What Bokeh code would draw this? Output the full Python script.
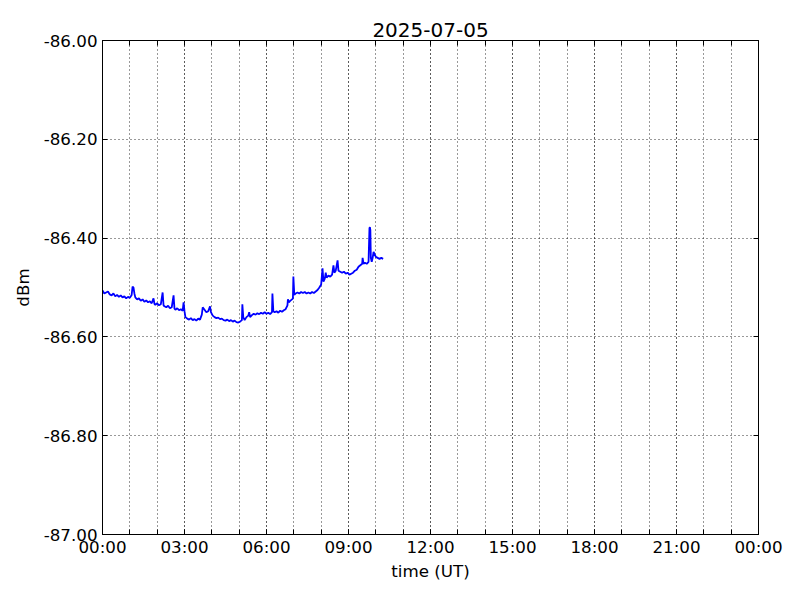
from bokeh.plotting import figure
from bokeh.models import FixedTicker, LinearAxis, Range1d, Title
from bokeh.embed import file_html
from bokeh.resources import INLINE

title_text = "2025-07-05"
x_label = "time (UT)"
y_label = "dBm"

# time in minutes after 00:00 UT
minutes = [0, 4, 8, 12, 16, 20, 24, 28, 32, 36, 40, 44, 48, 52, 56, 60, 64, 66, 68, 70,
           72, 76, 80, 84, 88, 92, 96, 100, 104, 108, 112, 114, 116, 120, 124, 128, 132, 134, 136, 140,
           144, 148, 152, 156, 158, 160, 164, 168, 172, 176, 178, 180, 182, 186, 190, 194, 198, 202, 206, 210,
           214, 218, 220, 224, 228, 232, 236, 238, 242, 246, 250, 254, 258, 262, 266, 270, 274, 278, 282, 286,
           290, 294, 298, 302, 306, 307, 309, 312, 316, 320, 322, 324, 328, 332, 336, 340, 344, 348, 352, 356,
           360, 364, 368, 372, 373, 375, 378, 382, 386, 390, 394, 398, 402, 406, 407, 409, 412, 416, 418, 419,
           421, 424, 428, 432, 436, 440, 444, 448, 452, 456, 460, 464, 468, 472, 476, 480, 483, 485, 488, 490,
           492, 496, 500, 504, 507, 509, 512, 516, 518, 522, 526, 530, 534, 538, 542, 546, 550, 554, 558, 562,
           566, 570, 571, 573, 576, 580, 584, 586, 587, 588, 589, 591, 593, 595, 597, 600, 604, 608, 612, 616]

power_dbm = [-86.506, -86.512, -86.510, -86.508, -86.514, -86.516, -86.512, -86.518, -86.515, -86.519,
             -86.516, -86.520, -86.518, -86.522, -86.519, -86.521, -86.515, -86.498, -86.500, -86.512,
             -86.520, -86.524, -86.522, -86.527, -86.524, -86.529, -86.526, -86.530, -86.528, -86.532,
             -86.522, -86.533, -86.535, -86.532, -86.536, -86.534, -86.510, -86.536, -86.538, -86.540,
             -86.537, -86.542, -86.540, -86.516, -86.543, -86.545, -86.542, -86.546, -86.544, -86.547,
             -86.530, -86.548, -86.560, -86.563, -86.565, -86.562, -86.566, -86.564, -86.567, -86.563,
             -86.565, -86.555, -86.540, -86.545, -86.550, -86.548, -86.538, -86.550, -86.557, -86.560,
             -86.562, -86.561, -86.564, -86.563, -86.566, -86.567, -86.565, -86.568, -86.566, -86.569,
             -86.567, -86.570, -86.571, -86.569, -86.566, -86.534, -86.560, -86.566, -86.560, -86.557,
             -86.550, -86.560, -86.556, -86.553, -86.555, -86.552, -86.554, -86.551, -86.553, -86.550,
             -86.553, -86.551, -86.554, -86.550, -86.512, -86.548, -86.550, -86.548, -86.551, -86.547,
             -86.549, -86.546, -86.544, -86.536, -86.524, -86.530, -86.527, -86.524, -86.522, -86.478,
             -86.515, -86.512, -86.510, -86.512, -86.509, -86.511, -86.509, -86.512, -86.510, -86.512,
             -86.509, -86.511, -86.508, -86.505, -86.500, -86.494, -86.461, -86.488, -86.482, -86.470,
             -86.480, -86.476, -86.478, -86.474, -86.455, -86.470, -86.466, -86.445, -86.466, -86.468,
             -86.470, -86.468, -86.472, -86.470, -86.474, -86.472, -86.470, -86.466, -86.464, -86.458,
             -86.455, -86.452, -86.440, -86.452, -86.450, -86.452, -86.448, -86.380, -86.378, -86.384,
             -86.440, -86.448, -86.440, -86.428, -86.432, -86.438, -86.440, -86.442, -86.440, -86.442]

x_major_hours = [0, 3, 6, 9, 12, 15, 18, 21, 24]
x_minor_hours = list(range(0, 25))
x_tick_labels = ["00:00", "03:00", "06:00", "09:00", "12:00", "15:00", "18:00", "21:00", "00:00"]
y_ticks = [-87.0, -86.8, -86.6, -86.4, -86.2, -86.0]
y_tick_labels = ["-87.00", "-86.80", "-86.60", "-86.40", "-86.20", "-86.00"]

hours = [m / 60.0 for m in minutes]

W, H = 792, 592
p = figure(width=W, height=H, output_backend="svg", toolbar_location=None,
           x_range=Range1d(0, 24), y_range=Range1d(-87.0, -86.0),
           min_border_left=102, min_border_right=34, min_border_top=40, min_border_bottom=58)

p.line(hours, power_dbm, line_color="#0000ff", line_width=1.8)

p.title = Title(text=title_text, align="center", text_font="DejaVu Sans",
                text_font_size="20px", text_font_style="normal", text_color="black",
                offset=0, standoff=8)

p.outline_line_color = "black"
p.outline_line_width = 1
p.background_fill_color = "white"
p.border_fill_color = "white"

x_ticker = FixedTicker(ticks=x_major_hours, minor_ticks=x_minor_hours)
y_ticker = FixedTicker(ticks=y_ticks, minor_ticks=[])

xa = p.xaxis[0]
xa.ticker = x_ticker
xa.major_label_overrides = {h: lbl for h, lbl in zip(x_major_hours, x_tick_labels)}
xa.axis_label = x_label
ya = p.yaxis[0]
ya.ticker = y_ticker
ya.major_label_overrides = {t: lbl for t, lbl in zip(y_ticks, y_tick_labels)}
ya.axis_label = y_label

for ax in (xa, ya):
    ax.axis_label_text_font = "DejaVu Sans"
    ax.axis_label_text_font_size = "16.7px"
    ax.axis_label_text_font_style = "normal"
    ax.axis_label_text_color = "black"
    ax.major_label_text_font = "DejaVu Sans"
    ax.major_label_text_font_size = "16.7px"
    ax.major_label_text_color = "black"
    ax.major_tick_in = 5
    ax.major_tick_out = 0
    ax.minor_tick_in = 5
    ax.minor_tick_out = 0
    ax.axis_line_color = "black"
    ax.major_tick_line_color = "black"
    ax.minor_tick_line_color = "black"
xa.major_label_standoff = 2
xa.axis_label_standoff = 1
ya.major_label_standoff = 5
ya.axis_label_standoff = 8

# mirrored ticks on top and right (minor ticks only, so no labels)
for loc, ticks in (("above", x_minor_hours), ("right", y_ticks)):
    ax2 = LinearAxis(ticker=FixedTicker(ticks=[], minor_ticks=ticks))
    ax2.major_tick_in = 0
    ax2.major_tick_out = 0
    ax2.minor_tick_in = 5
    ax2.minor_tick_out = 0
    ax2.axis_line_color = "black"
    ax2.minor_tick_line_color = "black"
    p.add_layout(ax2, loc)

p.xgrid[0].ticker = x_ticker
p.ygrid[0].ticker = y_ticker
for g in (p.xgrid[0], p.ygrid[0]):
    g.grid_line_color = "black"
    g.grid_line_dash = "1 3"
    g.grid_line_width = 1
    g.grid_line_alpha = 0.8
p.xgrid[0].minor_grid_line_color = "black"
p.xgrid[0].minor_grid_line_dash = "1 3"
p.xgrid[0].minor_grid_line_width = 1
p.xgrid[0].minor_grid_line_alpha = 0.8

open("out.html", "w").write(file_html(p, INLINE))
